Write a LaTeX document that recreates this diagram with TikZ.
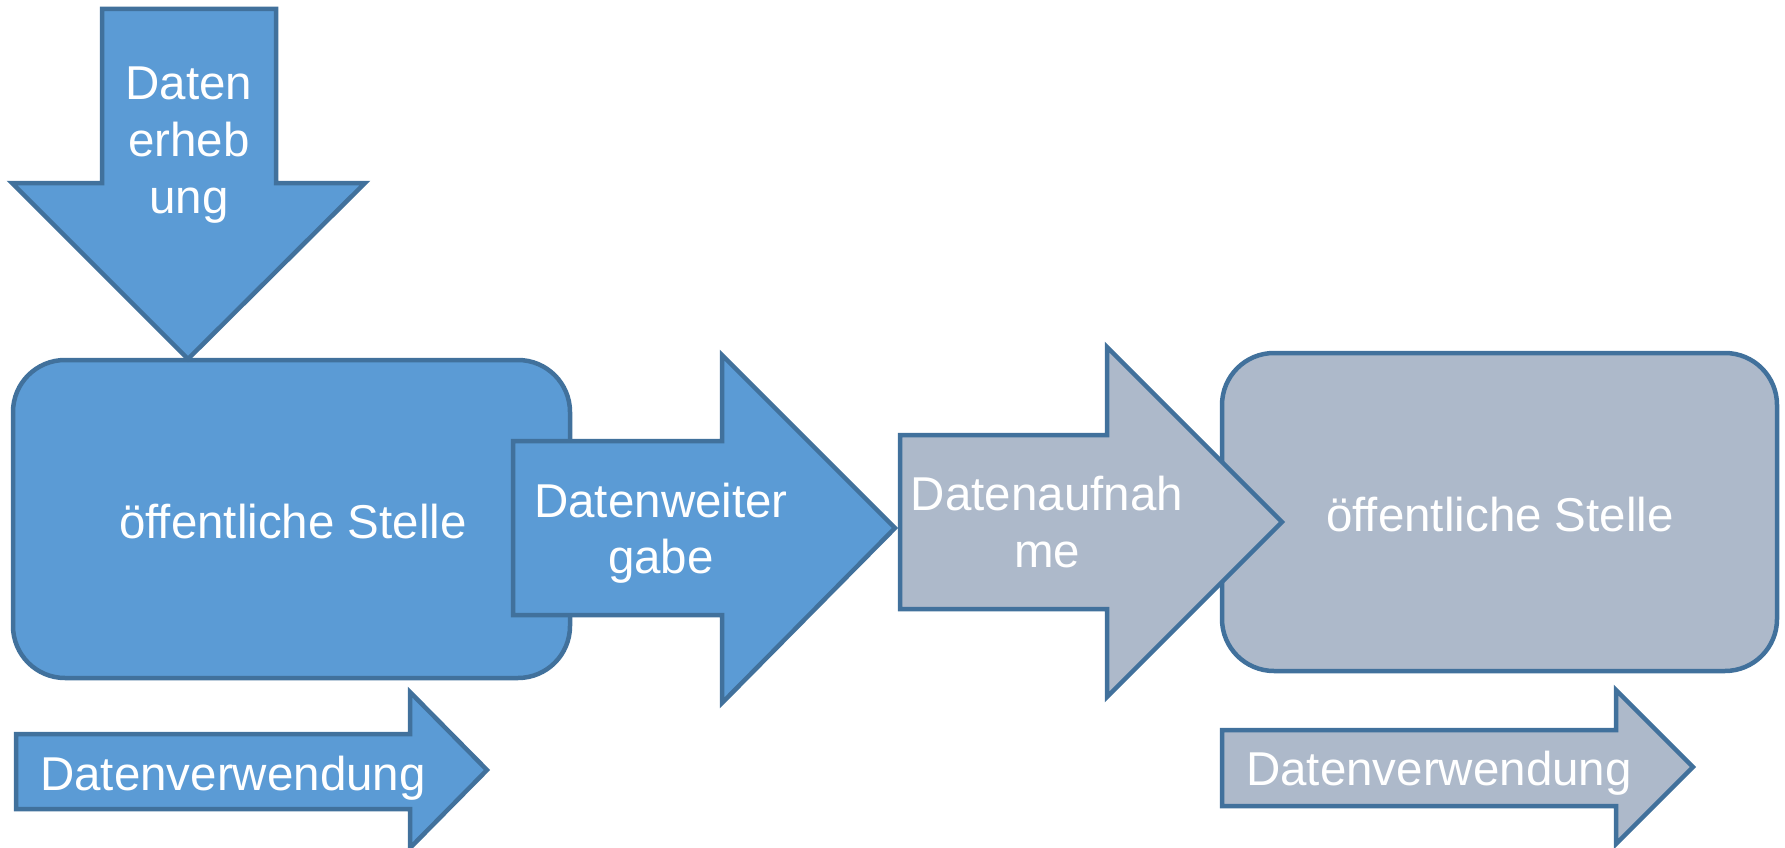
\documentclass[tikz,border=0pt]{standalone}
\usepackage{fontspec}
\setmainfont{Liberation Sans}
\definecolor{bluefill}{HTML}{5B9BD5}
\definecolor{edgeblue}{HTML}{41719C}
\definecolor{greyfill}{HTML}{ADB9CA}
\tikzset{
  shapeblue/.style={fill=bluefill, draw=edgeblue, line width=4.5pt, line join=miter},
  shapegrey/.style={fill=greyfill, draw=edgeblue, line width=4.5pt, line join=miter},
  lbl/.style={text=white, inner sep=0pt, anchor=base, font=\fontsize{47.5}{56}\selectfont}
}
\begin{document}
\begin{tikzpicture}[x=1pt,y=-1pt]
\useasboundingbox (0,0) rectangle (1785,848);
% boxes
\draw[shapeblue, rounded corners=52pt] (13,360) rectangle (570,678);
\draw[shapegrey, rounded corners=52pt] (1222,353) rectangle (1777,671);
% down arrow
\draw[shapeblue] (102,9) -- (276,9) -- (276,183) -- (365,183) -- (188,359) -- (12,183) -- (102,183) -- cycle;
% Datenweitergabe arrow
\draw[shapeblue] (513,441) -- (722,441) -- (722,355) -- (895,528) -- (722,703) -- (722,615) -- (513,615) -- cycle;
% Datenaufnahme arrow
\draw[shapegrey] (900,435) -- (1107,435) -- (1107,347) -- (1282,522) -- (1107,697) -- (1107,609) -- (900,609) -- cycle;
% Datenverwendung arrows
\draw[shapeblue] (16,734) -- (410,734) -- (410,692) -- (487,770) -- (410,848) -- (410,809) -- (16,809) -- cycle;
\draw[shapegrey] (1222,730) -- (1616,730) -- (1616,690) -- (1693,767) -- (1616,844) -- (1616,806) -- (1222,806) -- cycle;
% labels
\node[lbl] (de1) at (189,100) {Daten};
\node[lbl] (de2) at (189,157) {erheb};
\node[lbl] (de3) at (189,213) {ung};
\node[lbl] (os1) at (293,538) {öffentliche Stelle};
\node[lbl] (dw1) at (661,517) {Datenweiter};
\node[lbl] (dw2) at (661,573) {gabe};
\node[lbl] (da1) at (1047,510) {Datenaufnah};
\node[lbl] (da2) at (1047,567) {me};
\node[lbl] (os2) at (1500,531) {öffentliche Stelle};
\node[lbl] (dv1) at (233,790) {Datenverwendung};
\node[lbl] (dv2) at (1439,785) {Datenverwendung};
\end{tikzpicture}
\end{document}
